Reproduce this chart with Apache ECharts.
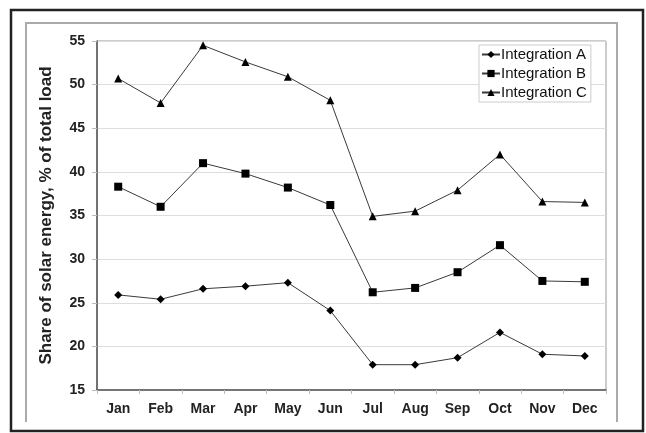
<!DOCTYPE html>
<html>
<head>
<meta charset="utf-8">
<script src="https://cdn.jsdelivr.net/npm/echarts@6/dist/echarts.min.js"></script>
<style>
  html, body { margin: 0; padding: 0; background: #fff; }
  #chart { width: 646px; height: 433px; }
</style>
</head>
<body>
<div id="chart"></div>
<script>
// 横轴 月份
var months = ['Jan', 'Feb', 'Mar', 'Apr', 'May', 'Jun', 'Jul', 'Aug', 'Sep', 'Oct', 'Nov', 'Dec'];
// 纵轴数据
var integrationA = [25.9, 25.4, 26.6, 26.9, 27.3, 24.1, 17.9, 17.9, 18.7, 21.6, 19.1, 18.9];
var integrationB = [38.3, 36.0, 41.0, 39.8, 38.2, 36.2, 26.2, 26.7, 28.5, 31.6, 27.5, 27.4];
var integrationC = [50.7, 47.9, 54.5, 52.6, 50.9, 48.2, 34.9, 35.5, 37.9, 42.0, 36.6, 36.5];
var seriesNames = ['Integration A', 'Integration B', 'Integration C'];

var myChart = echarts.init(document.getElementById('chart'));

var lineColor = '#3a3a3a';
var font = 'Liberation Sans, Arial, sans-serif';

function makeSeries(name, data, symbol, size) {
  return {
    name: name,
    type: 'line',
    data: data,
    symbol: symbol,
    symbolSize: size,
    showAllSymbol: true,
    color: '#000',
    lineStyle: { color: lineColor, width: 1 },
    itemStyle: { color: '#000', borderWidth: 0 },
    emphasis: { disabled: true },
    z: 3
  };
}

myChart.setOption({
  animation: false,
  backgroundColor: '#fff',
  graphic: [
    { // 外框
      type: 'rect',
      shape: { x: 11, y: 10, width: 632, height: 421 },
      style: { fill: 'none', stroke: '#222', lineWidth: 2.5 },
      z: -10
    },
    { // 内框
      type: 'polyline',
      shape: { points: [[26, 422], [26, 23], [617, 23], [617, 422]] },
      style: { fill: 'none', stroke: '#aaa', lineWidth: 2 },
      z: -10
    }
  ],
  grid: {
    left: 97, top: 41, right: 40, bottom: 43,
    show: true,
    borderColor: '#999',
    borderWidth: 1
  },
  legend: {
    data: seriesNames,
    orient: 'vertical',
    left: 479,
    top: 45,
    padding: [2, 4, 2, 2],
    itemWidth: 18,
    itemHeight: 9,
    itemGap: 4,
    borderColor: '#ccc',
    borderWidth: 1,
    backgroundColor: '#fff',
    textStyle: { fontFamily: font, fontSize: 15, color: '#111', padding: [0, 0, 0, -4] }
  },
  xAxis: {
    type: 'category',
    data: months,
    boundaryGap: true,
    axisLine: { lineStyle: { color: '#555', width: 1.5 } },
    axisTick: { show: true, length: 4, lineStyle: { color: '#bbb' } },
    axisLabel: {
      margin: 12, color: '#222', fontFamily: font, fontSize: 14, fontWeight: 'bold'
    },
    splitLine: { show: false }
  },
  yAxis: {
    type: 'value',
    min: 15,
    max: 55,
    interval: 5,
    name: 'Share of solar energy, % of total load',
    nameLocation: 'middle',
    nameGap: 42,
    nameTextStyle: { fontFamily: font, fontSize: 17, fontWeight: 'bold', color: '#222' },
    axisLine: { show: true, lineStyle: { color: '#555', width: 1.5 } },
    axisTick: { show: true, length: 5, lineStyle: { color: '#bbb' } },
    axisLabel: {
      margin: 12, color: '#222', fontFamily: font, fontSize: 14, fontWeight: 'bold'
    },
    splitLine: { show: true, lineStyle: { color: '#ddd', width: 1 } }
  },
  series: [
    makeSeries(seriesNames[0], integrationA, 'diamond', 8),
    makeSeries(seriesNames[1], integrationB, 'rect', 8),
    makeSeries(seriesNames[2], integrationC, 'triangle', 8)
  ]
});
</script>
</body>
</html>
